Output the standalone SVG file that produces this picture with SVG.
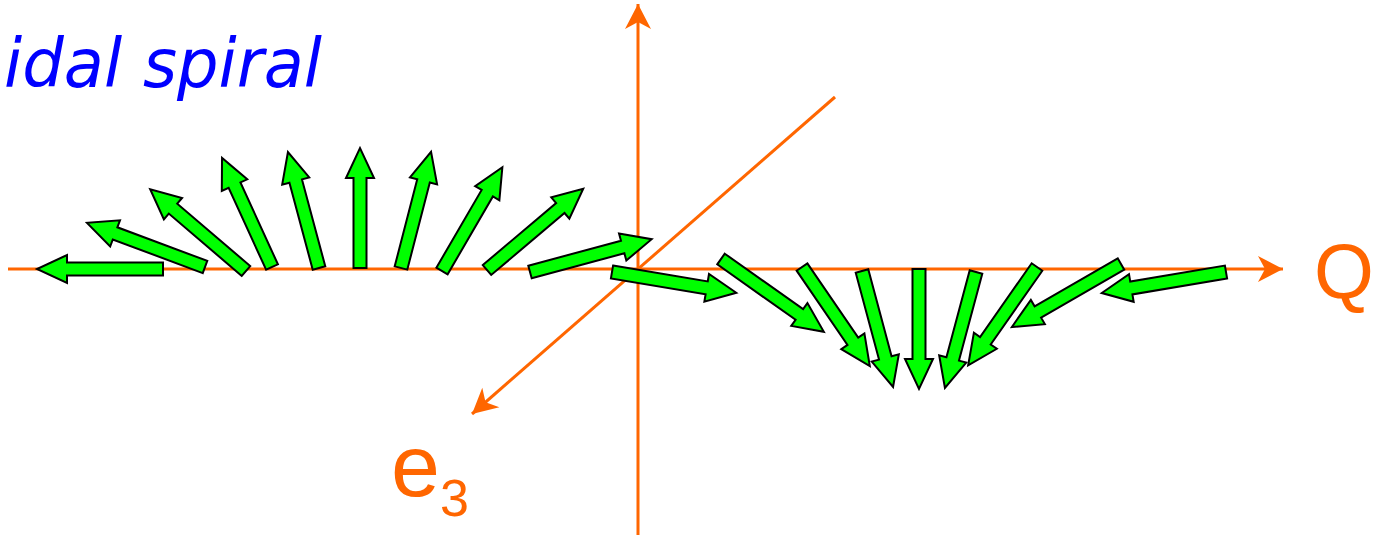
<svg xmlns="http://www.w3.org/2000/svg" xmlns:xlink="http://www.w3.org/1999/xlink" width="1374" height="536" viewBox="0 0 1374 536">
<style>
.ax{stroke:#FF6600;stroke-width:3;fill:none}
.v{fill:#00FF00;stroke:#000;stroke-width:2;stroke-linejoin:miter}
.lbl{font-family:"Liberation Sans",Arial,sans-serif;fill:#FF6600}
.title{font-family:"DejaVu Sans",Verdana,sans-serif;font-style:italic;fill:#0000FF;font-size:68px}
</style>
<defs>
<marker id="ah" viewBox="-26 -14 28 28" refX="0" refY="0" markerWidth="28" markerHeight="28" markerUnits="userSpaceOnUse" orient="auto">
<path d="M0,0 L-25,-13 L-18,0 L-25,13 Z" fill="#FF6600"/>
</marker>
<path id="aL" d="M0,-6.5 L96,-6.5 L96,-14 L126,0 L96,14 L96,6.5 L0,6.5 Z"/>
<path id="aS" d="M0,-6.5 L90,-6.5 L90,-14 L120,0 L90,14 L90,6.5 L0,6.5 Z"/>
</defs>
<rect width="1374" height="536" fill="#fff"/>
<text class="title" x="4" y="87" textLength="318" lengthAdjust="spacingAndGlyphs">idal spiral</text>
<g id="axes">
<line class="ax" x1="8" y1="269" x2="1283" y2="269" marker-end="url(#ah)"/>
<line class="ax" x1="638" y1="535" x2="638" y2="4" marker-end="url(#ah)"/>
<line class="ax" x1="835" y1="97" x2="472" y2="414" marker-end="url(#ah)"/>
</g>
<g id="vectors" class="v">
<use xlink:href="#aL" transform="translate(163,269) rotate(180)"/>
<use xlink:href="#aL" transform="translate(205,267) rotate(-159.5)"/>
<use xlink:href="#aL" transform="translate(246,271) rotate(-139.5)"/>
<use xlink:href="#aS" transform="translate(272,267) rotate(-114.6)"/>
<use xlink:href="#aS" transform="translate(319,268) rotate(-105)"/>
<use xlink:href="#aS" transform="translate(360,268) rotate(-90)"/>
<use xlink:href="#aS" transform="translate(401,268) rotate(-75.5)"/>
<use xlink:href="#aS" transform="translate(442,271) rotate(-59.8)"/>
<use xlink:href="#aL" transform="translate(487,270) rotate(-40.2)"/>
<use xlink:href="#aL" transform="translate(530,272) rotate(-15.1)"/>
<use xlink:href="#aL" transform="translate(612,272) rotate(9.5)"/>
<use xlink:href="#aL" transform="translate(721,259) rotate(35.3)"/>
<use xlink:href="#aS" transform="translate(802,267) rotate(55.6)"/>
<use xlink:href="#aS" transform="translate(862,271) rotate(75)"/>
<use xlink:href="#aS" transform="translate(919,269) rotate(90)"/>
<use xlink:href="#aS" transform="translate(976,272) rotate(105)"/>
<use xlink:href="#aS" transform="translate(1037,267) rotate(125)"/>
<use xlink:href="#aL" transform="translate(1121,264) rotate(150)"/>
<use xlink:href="#aL" transform="translate(1226,272) rotate(170.4)"/>
</g>
<g id="label-Q"><text class="lbl" x="1314" y="298" font-size="77">Q</text></g>
<g id="label-e3"><text class="lbl" x="391" y="496" font-size="88">e<tspan x="440" y="516" font-size="52">3</tspan></text></g>
</svg>
